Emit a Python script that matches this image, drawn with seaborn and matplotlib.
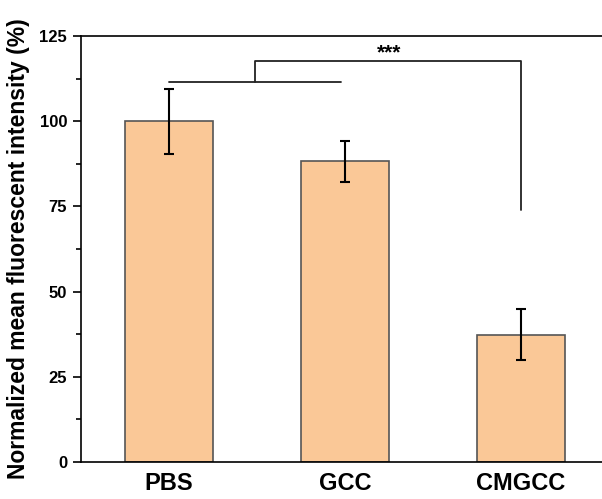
import matplotlib
matplotlib.use("Agg")
import matplotlib.pyplot as plt
import seaborn as sns
import pandas as pd
from matplotlib.ticker import MultipleLocator

categories = ["PBS", "GCC", "CMGCC"]
means = [100.0, 88.2, 37.4]
errors = [9.5, 6.1, 7.5]
yticks = [0, 25, 50, 75, 100, 125]

sns.set_theme(style="ticks")
plt.rcParams['font.family'] = ['Liberation Sans', 'DejaVu Sans']
plt.rcParams['text.color'] = 'black'
plt.rcParams['axes.labelcolor'] = 'black'
plt.rcParams['xtick.color'] = 'black'
plt.rcParams['ytick.color'] = 'black'

df = pd.DataFrame({"group": categories, "value": means})

fig = plt.figure(figsize=(6.02, 4.99), dpi=100)
ax = fig.add_axes([81/602, (499-462)/499, (609-81)/602, (462-36)/499])

sns.barplot(data=df, x="group", y="value", ax=ax, color="#FAC897", width=0.5,
            edgecolor="#555555", linewidth=1.2, saturation=1, errorbar=None)
ax.errorbar(range(len(categories)), means, yerr=errors, fmt="none", ecolor="black",
            elinewidth=1.5, capsize=3.5, capthick=1.5)

ax.set_xlim(-0.5, 2.5)
ax.set_ylim(0, 125)
ax.set_yticks(yticks)
ax.yaxis.set_minor_locator(MultipleLocator(12.5))
ax.tick_params(axis="y", which="major", direction="out", length=6, width=1.2, labelsize=12, pad=4)
ax.tick_params(axis="y", which="minor", direction="out", length=3.5, width=1.2)
ax.tick_params(axis="x", length=0, labelsize=17, pad=7)
for lbl in ax.get_yticklabels() + ax.get_xticklabels():
    lbl.set_fontweight("bold")
ax.set_xlabel("")
ax.set_ylabel("Normalized mean fluorescent intensity (%)", fontsize=16.5, fontweight="bold", labelpad=7)
for s in ["left", "bottom", "top"]:
    ax.spines[s].set_linewidth(1.2)
    ax.spines[s].set_color("black")
ax.spines["right"].set_visible(False)

# significance bracket
lc = "#222222"
ax.plot([0.0, 0.98], [111.6, 111.6], color=lc, lw=1.3)
ax.plot([0.49, 0.49, 2.0, 2.0], [111.6, 117.7, 117.7, 74.0], color=lc, lw=1.3)
ax.text(1.25, 117.2, "***", ha="center", va="bottom", fontsize=15, fontweight="bold")

fig.savefig("out.png", dpi=100)
